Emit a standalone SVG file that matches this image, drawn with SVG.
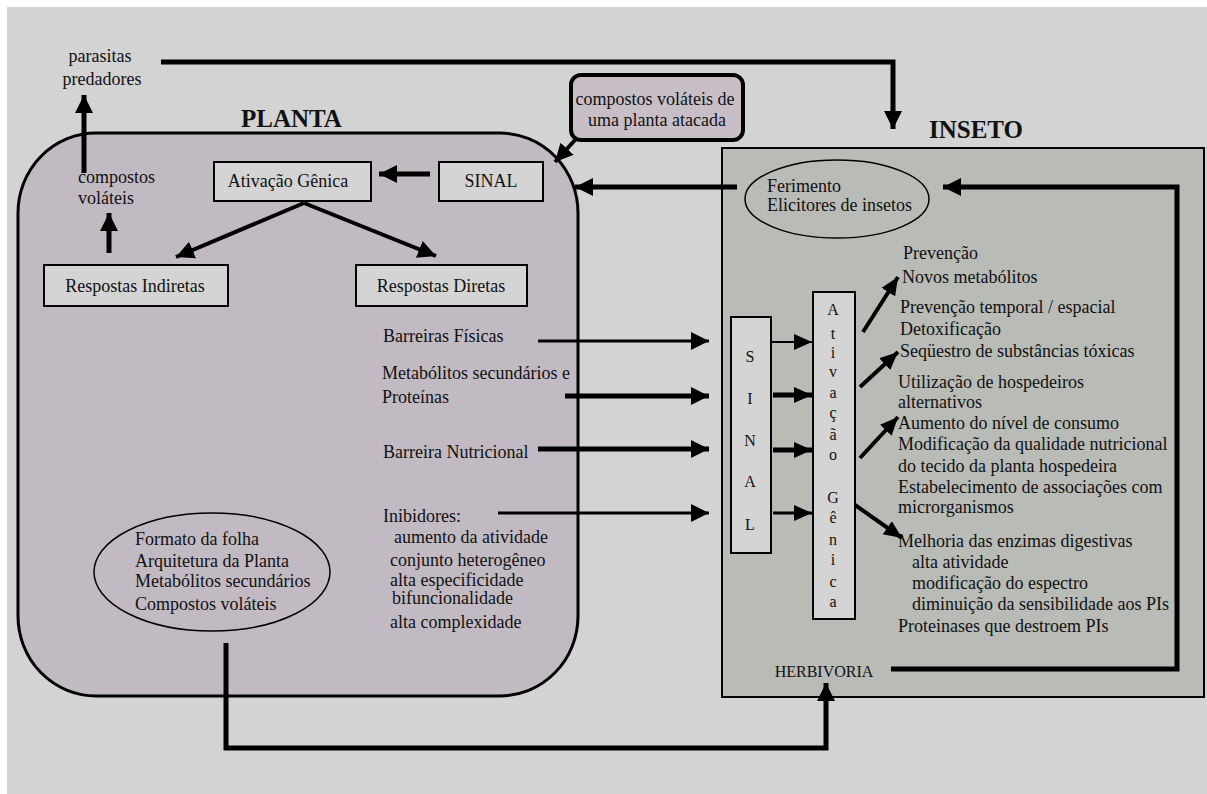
<svg xmlns="http://www.w3.org/2000/svg" width="1207" height="794" viewBox="0 0 1207 794">
<defs>
<marker id="ah" markerUnits="userSpaceOnUse" markerWidth="20" markerHeight="20" refX="18" refY="9" orient="auto"><path d="M0,0 L18,9 L0,18 z" fill="#000"/></marker>
<marker id="ahs" markerUnits="userSpaceOnUse" markerWidth="20" markerHeight="20" refX="18" refY="8" orient="auto"><path d="M0,0 L18,8 L0,16 z" fill="#000"/></marker>
<style>
text{font-family:"Liberation Serif","Times New Roman",serif;fill:#111;font-size:18px}
.t{font-weight:bold;font-size:25px}
.m{text-anchor:middle}
.box{fill:#d4d4d4;stroke:#000;stroke-width:2}
.c{fill:none;stroke:#000;stroke-linejoin:miter}
.w5{stroke-width:5}
.w4{stroke-width:4}
.w3{stroke-width:3}
.w2{stroke-width:2}
.v{font-size:16px;text-anchor:middle}
</style>
</defs>
<rect x="0" y="0" width="1207" height="794" fill="#fff"/>
<rect x="7" y="7" width="1200" height="787" fill="#d3d3d3"/>

<g id="planta">
<rect x="18" y="133" width="560" height="563" rx="78" ry="80" fill="#c2bac2" stroke="#000" stroke-width="3"/>
<text x="241" y="127" class="t">PLANTA</text>
</g>

<g id="inseto">
<rect x="722" y="148" width="482" height="549" fill="#b9bbb7" stroke="#000" stroke-width="2"/>
<text x="929" y="138" class="t">INSETO</text>
</g>

<g id="parasitas">
<text x="100" y="62" class="m">parasitas</text>
<text x="102" y="85" class="m">predadores</text>
</g>

<g id="compostos-atacada">
<rect x="571" y="75" width="172" height="65" rx="10" fill="#c8bec8" stroke="#000" stroke-width="4"/>
<text x="655" y="105" class="m">compostos voláteis de</text>
<text x="657" y="126" class="m">uma planta atacada</text>
</g>

<g id="compostos-volateis">
<text x="78" y="183">compostos</text>
<text x="78" y="204">voláteis</text>
</g>

<g id="ativacao-genica">
<rect x="214" y="162" width="157" height="39" class="box"/>
<text x="288" y="187" class="m">Ativação Gênica</text>
</g>

<g id="sinal-planta">
<rect x="439" y="162" width="104" height="39" class="box"/>
<text x="491" y="187" class="m">SINAL</text>
</g>

<g id="respostas-indiretas">
<rect x="44" y="265" width="184" height="41" class="box"/>
<text x="135" y="292" class="m">Respostas Indiretas</text>
</g>

<g id="respostas-diretas">
<rect x="356" y="265" width="171" height="41" class="box"/>
<text x="441" y="292" class="m">Respostas Diretas</text>
</g>

<g id="defesas">
<text x="383" y="342">Barreiras Físicas</text>
<text x="382" y="379">Metabólitos secundários e</text>
<text x="382" y="403">Proteínas</text>
<text x="383" y="458">Barreira Nutricional</text>
<text x="383" y="522">Inibidores:</text>
<text x="394" y="543">aumento da atividade</text>
<text x="390" y="566">conjunto heterogêneo</text>
<text x="390" y="586">alta especificidade</text>
<text x="392" y="604">bifuncionalidade</text>
<text x="390" y="628">alta complexidade</text>
</g>

<g id="caracteristicas">
<ellipse cx="212" cy="572" rx="118" ry="59" fill="none" stroke="#000" stroke-width="1.5"/>
<text x="135" y="545">Formato da folha</text>
<text x="135" y="567">Arquitetura da Planta</text>
<text x="135" y="587">Metabólitos secundários</text>
<text x="135" y="610">Compostos voláteis</text>
</g>

<g id="ferimento">
<ellipse cx="837" cy="199" rx="92" ry="39" fill="none" stroke="#000" stroke-width="1.5"/>
<text x="767" y="192">Ferimento</text>
<text x="767" y="211">Elicitores de insetos</text>
</g>

<g id="sinal-inseto">
<rect x="731" y="317" width="40" height="236" class="box"/>
<text x="750" y="362" class="v">S</text>
<text x="750" y="404" class="v">I</text>
<text x="750" y="446" class="v">N</text>
<text x="750" y="487" class="v">A</text>
<text x="750" y="530" class="v">L</text>
</g>

<g id="ativacao-inseto">
<rect x="813" y="292" width="42" height="327" class="box"/>
<text x="833" y="315" class="v">A</text>
<text x="833" y="339" class="v">t</text>
<text x="833" y="358" class="v">i</text>
<text x="833" y="377" class="v">v</text>
<text x="833" y="398" class="v">a</text>
<text x="833" y="418" class="v">ç</text>
<text x="833" y="440" class="v">ã</text>
<text x="833" y="460" class="v">o</text>
<text x="833" y="503" class="v">G</text>
<text x="833" y="523" class="v">ê</text>
<text x="833" y="545" class="v">n</text>
<text x="833" y="565" class="v">i</text>
<text x="833" y="587" class="v">c</text>
<text x="833" y="607" class="v">a</text>
</g>

<g id="adaptacoes">
<text x="903" y="259">Prevenção</text>
<text x="902" y="283">Novos metabólitos</text>
<text x="900" y="313">Prevenção temporal / espacial</text>
<text x="900" y="335">Detoxificação</text>
<text x="900" y="357">Seqüestro de substâncias tóxicas</text>
<text x="898" y="388">Utilização de hospedeiros</text>
<text x="898" y="408">alternativos</text>
<text x="898" y="429">Aumento do nível de consumo</text>
<text x="898" y="450">Modificação da qualidade nutricional</text>
<text x="898" y="472">do tecido da planta hospedeira</text>
<text x="898" y="493">Estabelecimento de associações com</text>
<text x="898" y="513">microrganismos</text>
<text x="898" y="547">Melhoria das enzimas digestivas</text>
<text x="912" y="568">alta atividade</text>
<text x="912" y="589">modificação do espectro</text>
<text x="912" y="610">diminuição da sensibilidade aos PIs</text>
<text x="898" y="632">Proteinases que destroem PIs</text>
</g>

<g id="herbivoria">
<text x="824" y="677" class="m" style="font-size:16px">HERBIVORIA</text>
</g>

<g id="connectors">
<path d="M161,62 H893 V129" class="c w5" marker-end="url(#ah)"/>
<path d="M84,173 V95" class="c w5" marker-end="url(#ah)"/>
<path d="M109,253 V213" class="c w5" marker-end="url(#ah)"/>
<path d="M430,174 H379" class="c w5" marker-end="url(#ah)"/>
<path d="M304,203 L176,257" class="c w4" marker-end="url(#ah)"/>
<path d="M304,203 L436,256" class="c w4" marker-end="url(#ah)"/>
<path d="M575,140 L555,162" class="c w4" marker-end="url(#ah)"/>
<path d="M737,187 H575" class="c w5" marker-end="url(#ah)"/>
<path d="M538,341 H709" class="c w3" marker-end="url(#ah)"/>
<path d="M565,396 H709" class="c w5" marker-end="url(#ah)"/>
<path d="M538,449 H709" class="c w5" marker-end="url(#ah)"/>
<path d="M498,513 H709" class="c w3" marker-end="url(#ah)"/>
<path d="M771,342 H812" class="c w2" marker-end="url(#ahs)"/>
<path d="M773,395 H812" class="c w5" marker-end="url(#ahs)"/>
<path d="M773,450 H812" class="c w5" marker-end="url(#ahs)"/>
<path d="M773,513 H812" class="c w3" marker-end="url(#ahs)"/>
<path d="M863,332 L898,277" class="c w4" marker-end="url(#ahs)"/>
<path d="M860,387 L898,352" class="c w4" marker-end="url(#ahs)"/>
<path d="M860,458 L898,417" class="c w4" marker-end="url(#ahs)"/>
<path d="M855,505 L902,538" class="c w4" marker-end="url(#ahs)"/>
<path d="M226,643 V748 H826 V683" class="c w5" marker-end="url(#ah)"/>
<path d="M891,669 H1177 V187 H943" class="c w5" marker-end="url(#ah)"/>
</g>
</svg>
